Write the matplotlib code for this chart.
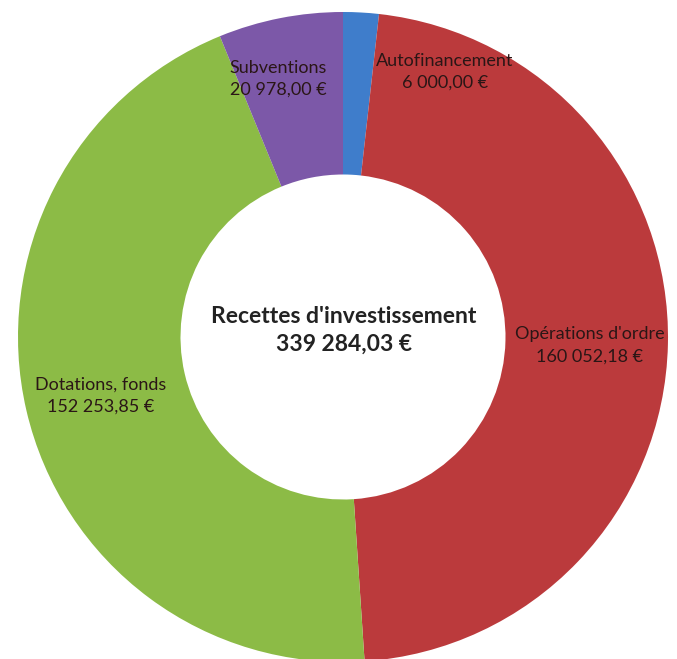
import matplotlib
matplotlib.use("Agg")
import matplotlib.pyplot as plt

# ── data ──────────────────────────────────────────────────────────────────────
categories = ["Autofinancement", "Opérations d'ordre", "Dotations, fonds", "Subventions"]
values     = [6000.00, 160052.18, 152253.85, 20978.00]
value_txt  = ["6 000,00 €", "160 052,18 €", "152 253,85 €", "20 978,00 €"]
colors     = ["#3F7DCB", "#BB3A3C", "#8CBB46", "#7C58A8"]
title_txt  = "Recettes d'investissement"
total_txt  = "339 284,03 €"

plt.rcParams["font.family"] = ["Lato", "DejaVu Sans"]

W, H, DPI = 677, 659, 100
R_PX      = 325            # outer radius in pixels
CX, CY    = 343, 337       # centre in pixels (from top-left)

fig = plt.figure(figsize=(W / DPI, H / DPI), dpi=DPI)
ax  = fig.add_axes([0, 0, 1, 1])

ax.pie(values, colors=colors, startangle=90, counterclock=False,
       radius=1.0, wedgeprops=dict(width=0.5, linewidth=0))

# same scale on both axes → circle stays round without aspect tricks
ax.set_xlim(-CX / R_PX, (W - CX) / R_PX)
ax.set_ylim(-(H - CY) / R_PX, CY / R_PX)
ax.set_aspect("auto")
ax.axis("off")

# label positions (axes fraction), matching the original layout
label_pos = [(0.657, 0.891), (0.871, 0.476), (0.148, 0.400), (0.411, 0.880)]
for name, vt, (lx, ly) in zip(categories, value_txt, label_pos):
    ax.text(lx, ly, f"{name}\n{vt}", transform=ax.transAxes, ha="center",
            va="center", fontsize=13, color="#2a1616", linespacing=1.45)

ax.text(0.508, 0.499, f"{title_txt}\n{total_txt}", transform=ax.transAxes,
        ha="center", va="center", fontsize=16.5, fontweight="bold",
        color="#222222", linespacing=1.4)

fig.savefig("out.png", dpi=DPI)
